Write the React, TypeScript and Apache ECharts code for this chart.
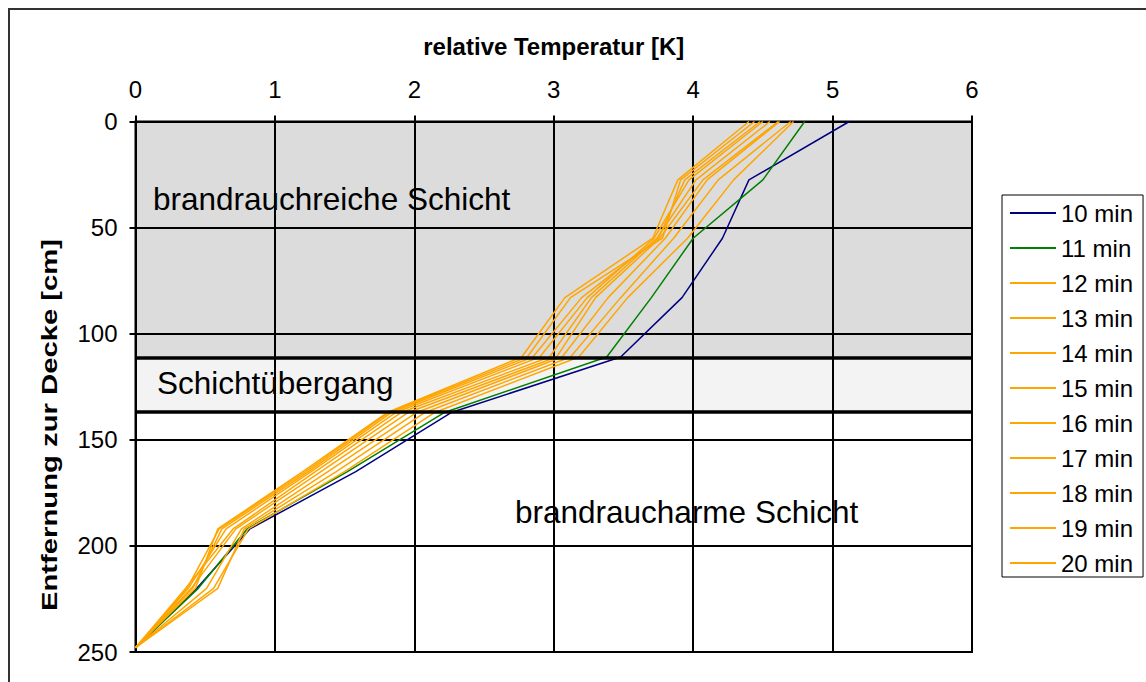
import React, { useEffect, useRef } from "react";
import * as echarts from "echarts";

const FONT = "Liberation Sans, Arial, sans-serif";

const depths = [0, 27.5, 55, 83, 111, 137, 165, 192, 220, 248];

const seriesNames = [
  "10 min", "11 min", "12 min", "13 min", "14 min", "15 min",
  "16 min", "17 min", "18 min", "19 min", "20 min",
];

const t10 = [5.12, 4.40, 4.21, 3.92, 3.48, 2.27, 1.58, 0.82, 0.44, 0];
const t11 = [4.80, 4.50, 4.00, 3.70, 3.38, 2.22, 1.52, 0.80, 0.45, 0];
const t12 = [4.72, 4.29, 3.96, 3.53, 3.18, 2.15, 1.50, 0.81, 0.56, 0];
const t13 = [4.70, 4.18, 3.86, 3.48, 3.12, 2.08, 1.44, 0.78, 0.59, 0];
const t14 = [4.62, 4.10, 3.80, 3.39, 3.06, 2.02, 1.38, 0.76, 0.51, 0];
const t15 = [4.61, 4.07, 3.76, 3.30, 3.02, 1.96, 1.33, 0.72, 0.40, 0];
const t16 = [4.55, 4.02, 3.74, 3.27, 2.97, 1.91, 1.29, 0.70, 0.36, 0];
const t17 = [4.50, 3.97, 3.72, 3.24, 2.90, 1.87, 1.26, 0.65, 0.38, 0];
const t18 = [4.48, 3.94, 3.75, 3.20, 2.85, 1.84, 1.24, 0.62, 0.41, 0];
const t19 = [4.44, 3.91, 3.78, 3.12, 2.81, 1.82, 1.22, 0.60, 0.37, 0];
const t20 = [4.40, 3.89, 3.71, 3.08, 2.77, 1.81, 1.20, 0.59, 0.43, 0];

const allTemps = [t10, t11, t12, t13, t14, t15, t16, t17, t18, t19, t20];
const seriesColors = [
  "#000080", "#008000", "#FFA500", "#FFA500", "#FFA500", "#FFA500",
  "#FFA500", "#FFA500", "#FFA500", "#FFA500", "#FFA500",
];

// layer boundaries (cm below ceiling)
const layerTop = 0;
const layerMid = 111.5;
const layerBottom = 137;

const layerLabels = ["brandrauchreiche Schicht", "Schichtübergang", "brandraucharme Schicht"];

export default function App() {
  const ref = useRef<HTMLDivElement>(null);

  useEffect(() => {
    document.body.style.margin = "0";
    if (!ref.current) return;
    const chart = echarts.init(ref.current, undefined, { renderer: "svg" });

    const lineSeries = allTemps.map((temps, i) => ({
      name: seriesNames[i],
      type: "line",
      data: temps.map((t, j) => [t, depths[j]]),
      symbol: "none",
      showSymbol: false,
      lineStyle: { color: seriesColors[i], width: 1.5 },
      itemStyle: { color: seriesColors[i] },
      z: 3,
    }));

    const option = {
      animation: false,
      backgroundColor: "#ffffff",
      grid: {
        left: 135.5,
        top: 121.5,
        right: 174,
        bottom: 30,
        show: true,
        borderColor: "#000",
        borderWidth: 2,
      },
      xAxis: {
        type: "value",
        position: "top",
        z: 2,
        min: 0,
        max: 6,
        interval: 1,
        name: "relative Temperatur [K]",
        nameLocation: "middle",
        nameGap: 63,
        nameTextStyle: { fontWeight: "bold", fontSize: 24, fontFamily: FONT, color: "#000" },
        axisLine: { show: true, lineStyle: { color: "#000", width: 2 } },
        axisTick: { show: true, length: 6, lineStyle: { color: "#000", width: 2 } },
        axisLabel: { fontSize: 24, color: "#000", margin: 20, fontFamily: FONT },
        splitLine: { show: true, lineStyle: { color: "#000", width: 2 } },
      },
      yAxis: {
        type: "value",
        inverse: true,
        z: 2,
        min: 0,
        max: 250,
        interval: 50,
        axisLine: { show: true, lineStyle: { color: "#000", width: 2 } },
        axisTick: { show: true, length: 6, lineStyle: { color: "#000", width: 2 } },
        axisLabel: { fontSize: 24, color: "#000", margin: 18, fontFamily: FONT },
        splitLine: { show: true, lineStyle: { color: "#000", width: 2 } },
      },
      legend: {
        orient: "vertical",
        left: 1002,
        top: 195,
        icon: "rect",
        itemWidth: 46,
        itemHeight: 2,
        itemGap: 11,
        padding: [6, 10, 2, 8],
        borderColor: "#000",
        borderWidth: 1,
        textStyle: { fontSize: 24, color: "#000", fontFamily: FONT },
        data: seriesNames,
      },
      graphic: [
        {
          type: "rect",
          silent: true,
          z: -10,
          shape: { x: 9, y: 9, width: 1400, height: 900 },
          style: { fill: "none", stroke: "#333", lineWidth: 2 },
        },
        {
          type: "text",
          x: 49,
          y: 425,
          rotation: Math.PI / 2,
          scaleX: 1.33,
          z: 10,
          style: {
            text: "Entfernung zur Decke [cm]",
            font: `bold 22px ${FONT}`,
            fill: "#000",
            align: "center",
            verticalAlign: "middle",
          },
        },
        {
          type: "text",
          left: 153,
          top: 183,
          z: 10,
          style: { text: layerLabels[0], font: `31.5px ${FONT}`, fill: "#000" },
        },
        {
          type: "text",
          left: 157,
          top: 367,
          z: 10,
          style: { text: layerLabels[1], font: `31.5px ${FONT}`, fill: "#000" },
        },
        {
          type: "text",
          left: 515,
          top: 496,
          z: 10,
          style: { text: layerLabels[2], font: `31.5px ${FONT}`, fill: "#000" },
        },
      ],
      series: [
        {
          name: "layers",
          type: "line",
          data: [],
          z: 1,
          silent: true,
          markArea: {
            silent: true,
            z: 1,
            data: [
              [{ yAxis: layerTop, itemStyle: { color: "#dcdcdc" } }, { yAxis: layerMid }],
              [{ yAxis: layerMid, itemStyle: { color: "#f3f3f3" } }, { yAxis: layerBottom }],
            ],
          },
        },
        ...lineSeries,
        {
          name: "boundaries",
          type: "line",
          data: [],
          z: 6,
          silent: true,
          markLine: {
            silent: true,
            z: 6,
            symbol: "none",
            label: { show: false },
            lineStyle: { color: "#000", width: 3.5, type: "solid" },
            data: [{ yAxis: layerMid }, { yAxis: layerBottom }],
          },
        },
      ],
    };

    chart.setOption(option as any);
    return () => chart.dispose();
  }, []);

  return <div ref={ref} style={{ width: 1146, height: 682 }} />;
}
